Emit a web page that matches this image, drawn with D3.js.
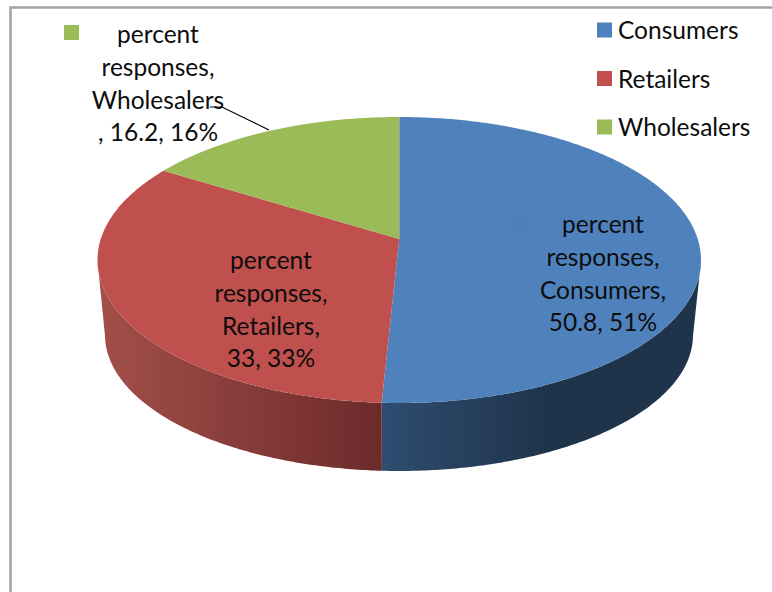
<!DOCTYPE html>
<html>
<head>
<meta charset="utf-8">
<script src="https://cdn.jsdelivr.net/npm/d3@7/dist/d3.min.js"></script>
<style>
  html, body { margin: 0; padding: 0; background: #fff; }
  svg { display: block; }
  text { font-family: Lato, "Open Sans", sans-serif; font-size: 24.5px; fill: #0d0d0d; }
</style>
</head>
<body>
<script>
// Share of responses by type of respondent
const categories = ["Consumers", "Retailers", "Wholesalers"];
const values = [50.8, 33, 16.2];
const seriesName = "percent responses";
const topColors = ["#4f81bd", "#c0504d", "#9bbb59"];
const wallShades = [["#2e4d70", "#1f334b"], ["#6c2a2a", "#a34f4a"], ["#5d7035", "#7d9647"]];

const width = 772, height = 592;
const svg = d3.select("body").append("svg").attr("width", width).attr("height", height);
const defs = svg.append("defs");

// Chart frame: only the top and left edges fall inside the page
svg.append("path")
  .attr("d", `M${width},7.5H10.5V${height}`)
  .attr("fill", "none").attr("stroke", "#a3a3a3").attr("stroke-width", 2.5);

// Disc-space scales for the upper face and the lower rim of the tilted pie
const topX = d3.scaleLinear().domain([-1, 1]).range([97.5, 701]);
const topY = d3.scaleLinear().domain([-1, 1]).range([403, 117]);
const rimX = d3.scaleLinear().domain([-1, 1]).range([105, 693]);
const rimY = d3.scaleLinear().domain([-1, 1]).range([471, 199]);

// Perspective shift: the disc centre moves up while the circle stays a circle
const shift = 0.147;
const project = a => {
  const u = Math.sin(a), v = Math.cos(a), w = 1 + shift * v;
  return [u * Math.sqrt(1 - shift * shift) / w, (v + shift) / w];
};

const arcs = d3.pie().value(d => d).sort(null)(values);
const outline = d3.line();

function samples(a0, a1) {
  const n = Math.max(2, Math.ceil((a1 - a0) / 0.01));
  return d3.range(n + 1).map(i => a0 + (a1 - a0) * i / n);
}

// Side walls, only where the rim faces the viewer
arcs.forEach((arc, i) => {
  const pts = samples(arc.startAngle, arc.endAngle).map(project).filter(p => p[1] <= 0);
  if (!pts.length) return;
  const upper = pts.map(p => [topX(p[0]), topY(p[1])]);
  const lower = pts.map(p => [rimX(p[0]), rimY(p[1])]).reverse();
  const xs = upper.concat(lower).map(p => p[0]);
  const grad = defs.append("linearGradient").attr("id", `wall${i}`)
    .attr("gradientUnits", "userSpaceOnUse")
    .attr("x1", i === 0 ? d3.min(xs) : d3.max(xs)).attr("x2", i === 0 ? d3.min(xs) + 170 : d3.min(xs))
    .attr("y1", 0).attr("y2", 0);
  grad.append("stop").attr("offset", 0).attr("stop-color", wallShades[i][0]);
  grad.append("stop").attr("offset", 1).attr("stop-color", wallShades[i][1]);
  svg.append("path")
    .attr("d", outline(upper.concat(lower)) + "Z")
    .attr("fill", `url(#wall${i})`);
});

// Upper face of each slice
arcs.forEach((arc, i) => {
  const pts = samples(arc.startAngle, arc.endAngle).map(project).map(p => [topX(p[0]), topY(p[1])]);
  const apex = [topX(0), topY(shift)];
  svg.append("path")
    .attr("d", outline([apex].concat(pts)) + "Z")
    .attr("fill", topColors[i]);
});

// Data labels, wrapped as they are set in the chart
const fmt = i => [values[i], Math.round(values[i] / d3.sum(values) * 100) + "%"];
const line = i => fmt(i).join(", ");
const words = seriesName.split(" ");
const dataLabels = [
  { i: 0, x: 603, y: 233, key: [512, 215], lines: [words[0], words[1] + ",", categories[0] + ",", line(0)] },
  { i: 1, x: 271, y: 269, key: [186, 251], lines: [words[0], words[1] + ",", categories[1] + ",", line(1)] },
  { i: 2, x: 158, y: 43, key: [64, 25], lines: [words[0], words[1] + ",", categories[2], ", " + line(2)] }
];

const keyFill = ["#4d7fbb", "#c1514e", topColors[2]];
dataLabels.forEach(d => {
  svg.append("rect").attr("x", d.key[0]).attr("y", d.key[1]).attr("width", 15).attr("height", 15)
    .attr("fill", keyFill[d.i]);
  svg.append("g").selectAll("text").data(d.lines).join("text")
    .attr("x", d.x).attr("y", (t, k) => d.y + k * 32.8)
    .attr("text-anchor", "middle").text(t => t);
});

// Leader from the small slice to its label
svg.append("path").attr("d", "M210,107H222L269,130").attr("fill", "none")
  .attr("stroke", "#000").attr("stroke-width", 1.2);

// Legend
const legendY = d3.scalePoint().domain(categories).range([30, 127]);
const legend = svg.append("g").selectAll("g").data(categories).join("g")
  .attr("transform", d => `translate(597,${legendY(d)})`);
legend.append("rect").attr("y", -7.5).attr("width", 15).attr("height", 15)
  .attr("fill", (d, i) => topColors[i]);
legend.append("text").attr("x", 21).attr("y", 9).text(d => d);
</script>
</body>
</html>
